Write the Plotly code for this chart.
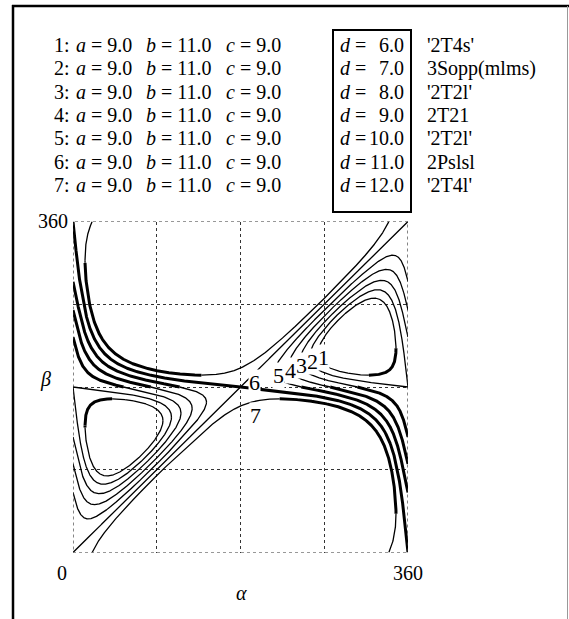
import numpy as np
import plotly.graph_objects as go

# Four-bar linkage: ground b, input crank a (angle alpha), output link c (angle beta), coupler d
link_a = [9.0, 9.0, 9.0, 9.0, 9.0, 9.0, 9.0]
link_b = [11.0, 11.0, 11.0, 11.0, 11.0, 11.0, 11.0]
link_c = [9.0, 9.0, 9.0, 9.0, 9.0, 9.0, 9.0]
link_d = [6.0, 7.0, 8.0, 9.0, 10.0, 11.0, 12.0]
curve_no = ["1", "2", "3", "4", "5", "6", "7"]
type_code = ["'2T4s'", "3Sopp(mlms)", "'2T2l'", "2T21", "'2T2l'", "2Pslsl", "'2T4l'"]
axis_ticks = [0, 360]

W, H = 569, 619
FONT = "Liberation Serif, Times New Roman, serif"


def coeffs(al, a, b, c, d):
    p = 2 * b * c - 2 * a * c * np.cos(al)
    q = -2 * a * c * np.sin(al)
    k = a * a + b * b + c * c - d * d - 2 * a * b * np.cos(al)
    return np.arctan2(q, p), -k / np.hypot(p, q)


def turning_point(x_in, x_out, a, b, c, d):
    for _ in range(50):
        m = 0.5 * (x_in + x_out)
        _, u = coeffs(np.array([m]), a, b, c, d)
        if abs(u[0]) <= 1:
            x_in = m
        else:
            x_out = m
    phi, u = coeffs(np.array([x_in]), a, b, c, d)
    return x_in, phi[0] + np.arccos(np.clip(u[0], -1, 1))


def branches(a, b, c, d, n=14401):
    al = np.linspace(0, 2 * np.pi, n)
    phi, u = coeffs(al, a, b, c, d)
    ok = np.abs(u) <= 1
    out = []
    i = 0
    while i < n:
        if not ok[i]:
            i += 1
            continue
        j = i
        while j + 1 < n and ok[j + 1]:
            j += 1
        head = turning_point(al[i], al[i - 1], a, b, c, d) if i > 0 else None
        tail = turning_point(al[j], al[j + 1], a, b, c, d) if j < n - 1 else None
        for s in (1, -1):
            xs = list(al[i:j + 1])
            ys = list(phi[i:j + 1] + s * np.arccos(u[i:j + 1]))
            if head is not None:
                xs.insert(0, head[0]); ys.insert(0, head[1])
            if tail is not None:
                xs.append(tail[0]); ys.append(tail[1])
            out.append((np.degrees(xs), np.degrees(ys)))
        i = j + 1
    return out


def wrap_pieces(alp, bet):
    bet = np.mod(bet, 360.0)
    pieces = []
    ca, cb = [alp[0]], [bet[0]]
    for k in range(1, len(alp)):
        db = bet[k] - bet[k - 1]
        if abs(db) > 180:
            if db < 0:
                t = (360 - bet[k - 1]) / (db + 360)
                ae = alp[k - 1] + t * (alp[k] - alp[k - 1])
                ca.append(ae); cb.append(360.0)
                pieces.append((np.array(ca), np.array(cb)))
                ca, cb = [ae], [0.0]
            else:
                t = bet[k - 1] / (360 - db)
                ae = alp[k - 1] + t * (alp[k] - alp[k - 1])
                ca.append(ae); cb.append(0.0)
                pieces.append((np.array(ca), np.array(cb)))
                ca, cb = [ae], [360.0]
        ca.append(alp[k]); cb.append(bet[k])
    pieces.append((np.array(ca), np.array(cb)))
    return pieces


def orient(ox, oy, px, py, qx, qy):
    return (px - ox) * (qy - oy) - (py - oy) * (qx - ox)


def seg_cross(p1, p2, p3, p4):
    d1 = orient(*p3, *p4, *p1)
    d2 = orient(*p3, *p4, *p2)
    d3 = orient(*p1, *p2, *p3)
    d4 = orient(*p1, *p2, *p4)
    return (d1 * d2 < 0) & (d3 * d4 < 0)


def crossed(alp, bet, a, b, c):
    # heavy stroke where the linkage quadrilateral is self-intersecting
    ar, br = np.radians(alp), np.radians(bet)
    z = np.zeros_like(ar)
    o1 = (z, z)
    o2 = (z + b, z)
    pa = (a * np.cos(ar), a * np.sin(ar))
    pb = (b + c * np.cos(br), c * np.sin(br))
    return seg_cross(o1, pa, o2, pb) | seg_cross(pa, pb, o1, o2)


fig = go.Figure()

for a, b, c, d in zip(link_a, link_b, link_c, link_d):
    heavy_x, heavy_y, light_x, light_y = [], [], [], []
    for alp, bet in branches(a, b, c, d):
        for pa, pb in wrap_pieces(alp, bet):
            if len(pa) < 2:
                continue
            m = crossed(pa, pb, a, b, c)
            start = 0
            for k in range(1, len(pa) + 1):
                if k == len(pa) or m[k] != m[start]:
                    end = min(k, len(pa) - 1)
                    seg_x = list(pa[start:end + 1]) + [None]
                    seg_y = list(pb[start:end + 1]) + [None]
                    if m[start]:
                        heavy_x += seg_x; heavy_y += seg_y
                    else:
                        light_x += seg_x; light_y += seg_y
                    start = k
    fig.add_trace(go.Scatter(x=light_x, y=light_y, mode="lines",
                             line=dict(color="black", width=1.3), hoverinfo="skip"))
    fig.add_trace(go.Scatter(x=heavy_x, y=heavy_y, mode="lines",
                             line=dict(color="black", width=3.0), hoverinfo="skip"))

x0p, x1p = 73.0, 408.0
y0p, y1p = 552.5, 221.5
grid = dict(range=[axis_ticks[0], axis_ticks[1]], dtick=90, showgrid=True,
            gridcolor="#333", gridwidth=1, griddash="dot", zeroline=False,
            showticklabels=False, ticks="", showline=False, fixedrange=True)
fig.update_layout(
    width=W, height=H, margin=dict(l=0, r=0, t=0, b=0),
    paper_bgcolor="white", plot_bgcolor="white", showlegend=False,
    xaxis=dict(domain=[x0p / W, x1p / W], **grid),
    yaxis=dict(domain=[1 - y0p / H, 1 - y1p / H], **grid),
)


def px(x):
    return x / W


def py(y):
    return 1 - y / H


shapes = [
    dict(type="rect", xref="x", yref="y", x0=0, x1=360, y0=0, y1=360,
         line=dict(color="#333", width=1.2, dash="dot")),
    dict(type="line", xref="paper", yref="paper", x0=px(13), x1=px(13), y0=py(5), y1=-0.05,
         line=dict(color="black", width=2.5)),
    dict(type="line", xref="paper", yref="paper", x0=px(12), x1=px(569), y0=py(6), y1=py(6),
         line=dict(color="black", width=2.5)),
    dict(type="line", xref="paper", yref="paper", x0=px(567.5), x1=px(567.5), y0=py(6), y1=-0.05,
         line=dict(color="#999", width=1)),
    dict(type="rect", xref="paper", yref="paper", x0=px(333), x1=px(411), y0=py(212), y1=py(30),
         line=dict(color="black", width=2)),
]
fig.update_layout(shapes=shapes)

ann = []


def text(x, y, s, size=20, anchor="left", bg=None):
    d = dict(x=px(x), y=py(y), xref="paper", yref="paper", text=s, showarrow=False,
             xanchor=anchor, yanchor="middle", font=dict(family=FONT, size=size, color="black"))
    if bg:
        d.update(bgcolor=bg, borderpad=0)
    ann.append(d)


for i in range(len(link_d)):
    y = 45 + 23.33 * i
    text(52, y, f"{curve_no[i]}:")
    text(74, y, f"<i>a</i> = {link_a[i]:.1f}")
    text(144, y, f"<i>b</i> = {link_b[i]:.1f}")
    text(224, y, f"<i>c</i> = {link_c[i]:.1f}")
    text(338, y, "<i>d</i> =")
    text(406, y, f"{link_d[i]:.1f}", anchor="right")
    text(425, y, type_code[i])

# axis labels
text(70, 221, str(axis_ticks[1]), anchor="right")
text(62, 573, str(axis_ticks[0]), anchor="center")
text(408, 573, str(axis_ticks[1]), anchor="center")
text(241, 593, "<i>α</i>", anchor="center")
text(45, 379, "<i>β</i>", anchor="center")

# curve numbers placed at the curve ends
label_pos = [(323, 357), (312, 361), (301, 365), (290, 370), (278, 375), (254, 382), (256, 415)]
for n, (x, y) in zip(curve_no, label_pos):
    text(x, y, n, size=22, anchor="center", bg="white")

fig.update_layout(annotations=ann)
fig.write_html("out.html")
